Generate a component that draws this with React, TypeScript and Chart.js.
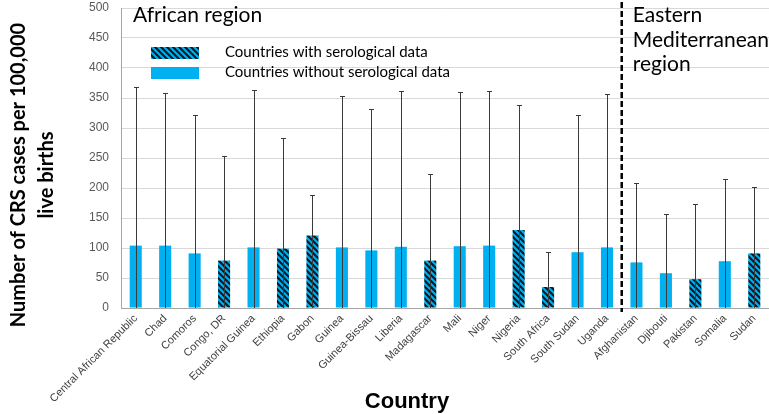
import React, { useEffect, useRef } from "react";
import { Chart, registerables } from "chart.js";

Chart.register(...registerables);

const africanRegion = [
  "Central African Republic", "Chad", "Comoros", "Congo, DR", "Equatorial Guinea",
  "Ethiopia", "Gabon", "Guinea", "Guinea-Bissau", "Liberia", "Madagascar", "Mali",
  "Niger", "Nigeria", "South Africa", "South Sudan", "Uganda",
];
const easternMediterranean = ["Afghanistan", "Djibouti", "Pakistan", "Somalia", "Sudan"];
const countries = [...africanRegion, ...easternMediterranean];

const crsRate = [104, 104, 91, 79, 101, 99, 121, 101, 96, 102, 79, 103, 104, 130, 35, 93, 101, 76, 58, 48, 78, 91];
const upperBound = [368, 358, 321, 254, 364, 283, 188, 353, 331, 362, 224, 360, 361, 338, 93, 322, 356, 208, 157, 173, 215, 202];
const withSerology = [
  "Congo, DR", "Ethiopia", "Gabon", "Madagascar", "Nigeria", "South Africa", "Pakistan", "Sudan",
];

const legendLabels = ["Countries with serological data", "Countries without serological data"];
const yTitleLines = ["Number of CRS cases per 100,000", "live births"];
const xTitle = "Country";
const africanTitle = ["African region"];
const emTitle = ["Eastern", "Mediterranean", "region"];

const BLUE = "#00B0F0";
const HATCH = "#111820";

export default function App() {
  const ref = useRef<HTMLCanvasElement>(null);

  useEffect(() => {
    document.body.style.margin = "0";
    const canvas = ref.current!;
    const tile = document.createElement("canvas");
    tile.width = 6;
    tile.height = 6;
    const t = tile.getContext("2d")!;
    t.fillStyle = BLUE;
    t.fillRect(0, 0, 6, 6);
    t.strokeStyle = HATCH;
    t.lineWidth = 2.2;
    t.beginPath();
    t.moveTo(-1, -1); t.lineTo(7, 7);
    t.moveTo(-1, 5); t.lineTo(1, 7);
    t.moveTo(5, -1); t.lineTo(7, 1);
    t.stroke();
    const pattern = canvas.getContext("2d")!.createPattern(tile, "repeat")!;

    const overlay = {
      id: "overlay",
      afterDatasetsDraw(chart: any) {
        const { ctx, scales } = chart;
        const x = scales.x;
        const y = scales.y;
        ctx.save();
        // error bars
        ctx.strokeStyle = "#3a3a3a";
        ctx.lineWidth = 1;
        upperBound.forEach((u, i) => {
          const px = Math.round(x.getPixelForValue(i)) + 0.5;
          const top = Math.round(y.getPixelForValue(u)) + 0.5;
          const bot = y.getPixelForValue(0);
          ctx.beginPath();
          ctx.moveTo(px, bot);
          ctx.lineTo(px, top);
          ctx.moveTo(px - 2.5, top);
          ctx.lineTo(px + 2.5, top);
          ctx.stroke();
        });
        // region separator
        const n = africanRegion.length;
        const sepX = (x.getPixelForValue(n - 1) + x.getPixelForValue(n)) / 2;
        ctx.strokeStyle = "#000";
        ctx.lineWidth = 2.5;
        ctx.setLineDash([6, 3]);
        ctx.beginPath();
        ctx.moveTo(sepX, 2);
        ctx.lineTo(sepX, chart.chartArea.bottom + 4);
        ctx.stroke();
        ctx.setLineDash([]);

        // region titles
        ctx.fillStyle = "#000";
        ctx.textBaseline = "alphabetic";
        ctx.textAlign = "left";
        ctx.font = "21px Lato";
        africanTitle.forEach((s, i) => ctx.fillText(s, 133, 22 + i * 25));
        emTitle.forEach((s, i) => ctx.fillText(s, sepX + 11, 22 + i * 24.5));

        // legend
        ctx.fillStyle = pattern;
        ctx.fillRect(151, 47, 48, 12);
        ctx.fillStyle = BLUE;
        ctx.fillRect(151, 67, 48, 12);
        ctx.fillStyle = "#000";
        ctx.font = "15px Lato";
        ctx.textBaseline = "middle";
        ctx.fillText(legendLabels[0], 225, 52);
        ctx.fillText(legendLabels[1], 225, 72);

        // axis titles
        ctx.font = "bold 20px Lato";
        ctx.textAlign = "center";
        ctx.save();
        ctx.translate(0, 175);
        ctx.rotate(-Math.PI / 2);
        ctx.fillText(yTitleLines[0], 0, 19);
        ctx.fillText(yTitleLines[1], 0, 47);
        ctx.restore();

        ctx.font = "bold 22px 'Liberation Sans', Arial";
        ctx.textBaseline = "alphabetic";
        ctx.fillText(xTitle, 407, 408);
        ctx.restore();
      },
    };

    const chart = new Chart(canvas, {
      type: "bar",
      data: {
        labels: countries,
        datasets: [
          {
            data: crsRate,
            backgroundColor: countries.map((c) => (withSerology.includes(c) ? pattern : BLUE)),
            borderWidth: 0,
            barPercentage: 0.41,
            categoryPercentage: 1,
          },
        ],
      },
      options: {
        responsive: false,
        animation: false,
        devicePixelRatio: 1,
        layout: { padding: { top: 8, right: 0, left: 0, bottom: 0 } },
        plugins: { legend: { display: false }, tooltip: { enabled: false } },
        scales: {
          x: {
            grid: { display: false, drawTicks: false },
            border: { color: "#a6a6a6", width: 1 },
            ticks: {
              autoSkip: false,
              minRotation: 45,
              maxRotation: 45,
              padding: 4,
              color: "#404040",
              font: { family: "'Liberation Sans', Arial", size: 11 },
            },
            afterFit: (s: any) => {
              s.height = 106;
            },
          },
          y: {
            min: 0,
            max: 500,
            ticks: {
              stepSize: 50,
              padding: 0,
              color: "#595959",
              font: { family: "'Liberation Sans', Arial", size: 12 },
            },
            grid: { color: "#d9d9d9", drawTicks: true, tickLength: 12, tickColor: "rgba(0,0,0,0)" },
            border: { color: "#a6a6a6", width: 1 },
            afterFit: (s: any) => {
              s.width = 121;
              s.paddingTop = 0;
              s.paddingBottom = 0;
            },
          },
        },
      },
      plugins: [overlay],
    });
    return () => chart.destroy();
  }, []);

  return (
    <div style={{ width: 769, height: 414, background: "#fff" }}>
      <canvas ref={ref} width={769} height={414} style={{ display: "block" }} />
    </div>
  );
}
